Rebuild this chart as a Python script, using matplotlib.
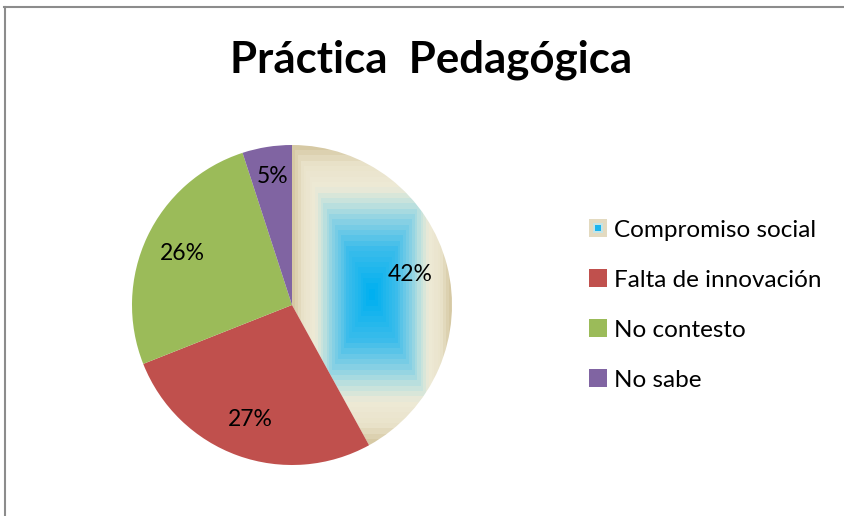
import numpy as np
import matplotlib
matplotlib.use("Agg")
from matplotlib import pyplot as plt
from matplotlib.colors import LinearSegmentedColormap
from matplotlib.lines import Line2D
from matplotlib.patches import Rectangle, Patch
from matplotlib.legend_handler import HandlerPatch

plt.rcParams['font.family'] = ['Lato', 'DejaVu Sans']

# data
categories = ["Compromiso social", "Falta de innovación", "No contesto", "No sabe"]
percentages = [42, 27, 26, 5]
colors = ["#EEEAD6", "#C0504D", "#9BBB59", "#8064A2"]
title = "Práctica  Pedagógica"

# rectangular gradient used for the first slice (cyan centre -> beige -> tan edge)
grad = LinearSegmentedColormap.from_list("water", [
    (0.0, "#00B0F0"),
    (0.3, "#3DBDEB"),
    (0.5, "#8ED3E4"),
    (0.62, "#C6E3DD"),
    (0.72, "#EEEAD6"),
    (0.88, "#EAE3CB"),
    (1.0, "#D6C9A4"),
], N=28)


class GradientSquare(HandlerPatch):
    def create_artists(self, legend, orig_handle, xdescent, ydescent,
                       width, height, fontsize, trans):
        s = height
        x0 = -xdescent + (width - s) / 2
        y0 = -ydescent
        outer = Rectangle((x0, y0), s, s, facecolor="#E3DAC0", edgecolor="none", transform=trans)
        mid = Rectangle((x0 + s * 0.2, y0 + s * 0.2), s * 0.6, s * 0.6,
                        facecolor="#C4E4E6", edgecolor="none", transform=trans)
        inner = Rectangle((x0 + s * 0.35, y0 + s * 0.35), s * 0.3, s * 0.3,
                          facecolor="#1BB4EE", edgecolor="none", transform=trans)
        return [outer, mid, inner]


class PlainSquare(HandlerPatch):
    def create_artists(self, legend, orig_handle, xdescent, ydescent,
                       width, height, fontsize, trans):
        s = height
        x0 = -xdescent + (width - s) / 2
        r = Rectangle((x0, -ydescent), s, s, facecolor=orig_handle.get_facecolor(),
                      edgecolor="none", transform=trans)
        return [r]


fig = plt.figure(figsize=(8.45, 5.16), dpi=100)
ax = fig.add_axes([132 / 845, 51 / 516, 320 / 845, 320 / 516])

wedges, texts, autotexts = ax.pie(
    percentages, colors=colors, startangle=90, counterclock=False,
    autopct="%d%%", pctdistance=0.76, wedgeprops=dict(linewidth=0),
    textprops=dict(fontsize=16.5, color="black"))

# gradient fill clipped to the first slice
w0 = wedges[0]
w0.set_facecolor("none")
ext = w0.get_path().get_extents()
n = 300
gx = np.linspace(-1, 1, n)
gy = np.linspace(-1, 1, n)
GX, GY = np.meshgrid(gx, gy)
Z = np.maximum(np.abs(GX), np.abs(GY))
im = ax.imshow(Z, cmap=grad, vmin=0, vmax=1, interpolation="nearest",
               extent=[ext.x0, ext.x1, ext.y0, ext.y1], zorder=0.5)
im.set_clip_path(w0)

# small slice label sits a little higher
x5, y5 = autotexts[3].get_position()
autotexts[3].set_position((x5, y5 + 0.05))

ax.set_xlim(-1, 1)
ax.set_ylim(-1, 1)
ax.set_aspect("equal")
ax.axis("off")

fig.text(431 / 845, 1 - 60 / 516, title, ha="center", va="center",
         fontsize=31.5, fontweight="bold")

handles = [Patch(facecolor=c) for c in colors]
handler_map = {handles[0]: GradientSquare()}
for h in handles[1:]:
    handler_map[h] = PlainSquare()
leg = fig.legend(handles, categories, loc="center left",
                 bbox_to_anchor=(567 / 845, 1 - 305 / 516), frameon=False,
                 fontsize=17.5, handlelength=0.75, handleheight=0.75,
                 handletextpad=0.3, labelspacing=1.18, handler_map=handler_map)

# chart area border (top and left lines only are visible)
fig.add_artist(Line2D([4 / 845, 1], [1 - 7 / 516, 1 - 7 / 516], color="#8C8C8C", lw=1.5))
fig.add_artist(Line2D([5 / 845, 5 / 845], [0, 1 - 7 / 516], color="#8C8C8C", lw=1.5))

plt.savefig("out.png", dpi=100)
